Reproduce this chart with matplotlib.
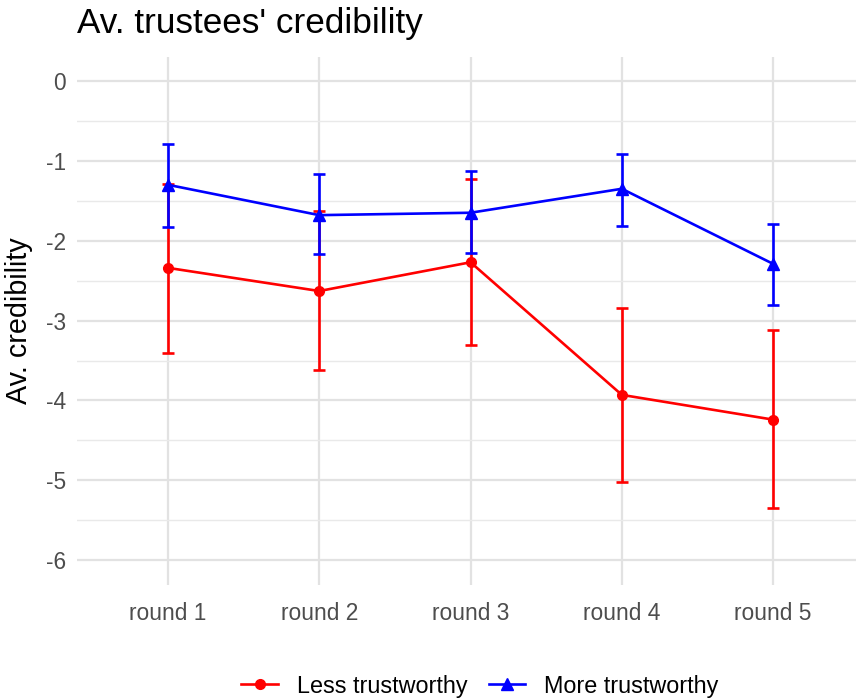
import matplotlib.pyplot as plt
import numpy as np

plt.rcParams['font.family'] = ['Liberation Sans', 'DejaVu Sans']

# Data
rounds = ['round 1', 'round 2', 'round 3', 'round 4', 'round 5']
less_mean = [-2.34, -2.63, -2.27, -3.93, -4.24]
less_low = [-3.41, -3.62, -3.30, -5.02, -5.35]
less_high = [-1.29, -1.63, -1.23, -2.84, -3.12]
more_mean = [-1.30, -1.68, -1.65, -1.35, -2.29]
more_low = [-1.83, -2.17, -2.16, -1.82, -2.81]
more_high = [-0.79, -1.17, -1.13, -0.91, -1.79]
y_ticks = [0, -1, -2, -3, -4, -5, -6]

fig = plt.figure(figsize=(8.56, 7.0), dpi=100)
ax = fig.add_axes([0.0902, 0.1643, 0.919, 0.7543])

x = np.arange(1, len(rounds) + 1)

series = [
    ('Less trustworthy', less_mean, less_low, less_high, '#FF0000', 'o', 7),
    ('More trustworthy', more_mean, more_low, more_high, '#0000FF', '^', 8),
]
for label, m, lo, hi, col, mk, ms in series:
    m = np.array(m)
    err = [m - np.array(lo), np.array(hi) - m]
    ax.errorbar(x, m, yerr=err, fmt='none', ecolor=col, elinewidth=1.9,
                capsize=4.5, capthick=1.9, zorder=3)
    ax.plot(x, m, color=col, lw=1.9, marker=mk, markersize=ms, label=label, zorder=4)

ax.set_xlim(0.4, 5.6)
ax.set_ylim(-6.31, 0.30)
ax.set_xticks(x)
ax.set_xticklabels(rounds)
ax.set_yticks(y_ticks)
ax.set_yticklabels([str(v) for v in y_ticks])
ax.set_yticks(np.arange(-5.5, 0, 1.0), minor=True)

ax.grid(which='major', color='#e2e2e2', lw=1.6, zorder=0)
ax.grid(which='minor', axis='y', color='#e9e9e9', lw=1.0, zorder=0)
ax.set_axisbelow(True)
for s in ax.spines.values():
    s.set_visible(False)
ax.tick_params(which='both', length=0, labelsize=16.4, colors='#4d4d4d', pad=8)
ax.tick_params(axis='x', pad=12)

ax.set_ylabel('Av. credibility', fontsize=20.7, color='black', labelpad=9)
fig.text(77 / 856, 1 - 24 / 700, "Av. trustees' credibility", fontsize=25.3,
         ha='left', va='center')

fig.legend(loc='center', bbox_to_anchor=(0.5607, 1 - 686 / 700), ncol=2,
           frameon=False, fontsize=16.8, handlelength=1.58, columnspacing=0.9,
           handletextpad=0.81, borderpad=0)

plt.savefig('out.png', dpi=100)
